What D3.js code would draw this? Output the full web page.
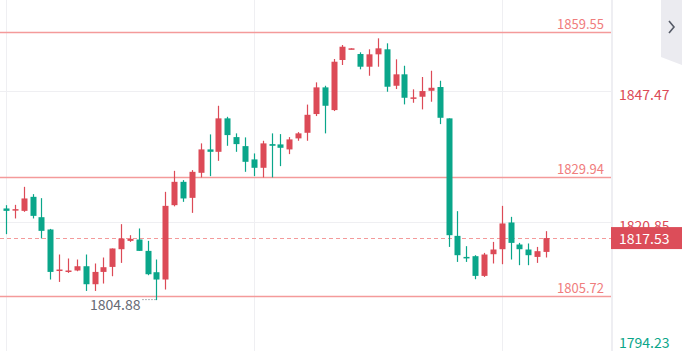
<!DOCTYPE html>
<html>
<head>
<meta charset="utf-8">
<script src="https://cdn.jsdelivr.net/npm/d3@7"></script>
<style>
  html, body { margin: 0; padding: 0; background: #fff; }
  svg { display: block; }
  text { font-family: "Noto Sans CJK SC", "Noto Sans", sans-serif; }
</style>
</head>
<body>
<div id="chart"></div>
<script>
// candle values (red = up, green = down)
const opens = [1823.57,1823.16,1823.08,1825.94,1821.79,1819.28,1810.84,1810.63,1810.92,1811.79,1808.12,1810.63,1811.65,1815.26,1816.96,1817.24,1814.92,1810.57,1809.08,1824.24,1829.0,1825.73,1830.84,1835.61,1835.12,1841.94,1838.12,1836.28,1833.57,1831.86,1836.69,1836.63,1835.61,1837.86,1839.0,1842.82,1848.26,1843.63,1853.84,1856.02,1855.06,1852.47,1855.0,1856.02,1848.59,1850.92,1846.02,1846.35,1847.57,1848.33,1841.94,1817.98,1813.69,1813.84,1809.82,1814.24,1815.26,1820.71,1816.22,1815.2,1813.69,1814.71];
const highs = [1824.24,1824.31,1827.98,1826.49,1825.67,1819.4,1814.18,1813.37,1813.16,1814.18,1812.35,1813.57,1815.41,1820.37,1818.12,1819.49,1816.96,1813.16,1826.96,1831.24,1829.35,1831.39,1836.84,1838.67,1844.51,1842.26,1838.88,1838.06,1834.79,1837.37,1838.88,1838.73,1838.12,1839.14,1844.75,1849.28,1848.59,1854.04,1856.9,1856.22,1855.41,1856.02,1858.26,1857.24,1853.98,1852.67,1847.86,1850.37,1851.65,1849.61,1841.94,1823.02,1815.88,1814.04,1814.51,1816.75,1824.1,1821.86,1816.55,1816.43,1815.73,1818.94];
const lows = [1818.33,1821.53,1822.88,1821.53,1817.45,1809.08,1808.59,1810.43,1810.77,1806.75,1806.75,1808.26,1809.75,1812.47,1816.75,1814.92,1809.96,1804.88,1807.04,1824.0,1824.92,1822.67,1829.9,1830.16,1833.28,1836.35,1835.12,1831.04,1830.16,1829.9,1829.9,1832.2,1834.65,1837.37,1837.37,1842.41,1838.88,1843.43,1852.82,1856.02,1851.94,1850.63,1852.47,1847.37,1847.92,1844.79,1845.12,1843.77,1845.33,1840.77,1815.73,1812.67,1812.67,1809.14,1809.61,1812.35,1812.2,1813.16,1812.0,1812.0,1812.47,1813.57];
const closes = [1823.08,1823.43,1825.61,1822.06,1819.0,1810.63,1811.12,1810.92,1811.79,1808.12,1810.63,1811.59,1815.41,1817.45,1817.37,1814.92,1810.16,1809.08,1824.1,1829.0,1825.61,1831.04,1835.61,1835.12,1841.94,1838.53,1836.69,1833.08,1831.86,1836.84,1836.35,1835.94,1837.65,1838.88,1842.67,1848.26,1844.51,1853.49,1856.55,1856.22,1852.47,1855.0,1856.22,1848.39,1850.92,1846.14,1846.22,1847.51,1848.18,1842.06,1818.12,1814.04,1813.49,1809.82,1814.18,1815.2,1820.51,1816.55,1815.26,1814.04,1814.86,1817.53];

const axisTicks = [1794.23, 1820.85, 1847.47];
const levelLines = [1859.55, 1829.94, 1805.72];
const lastPrice = 1817.53;
const lowMark = 1804.88;
const gridEvery = 28; // vertical grid every 28 candles

(function () {
    const W = 682, H = 351;
    const plotRight = 611;
    const red = "#dc4a57", green = "#0aa68a";
    const levelColor = "#f49a9a", levelText = "#f07d7d";

    const svg = d3.select("#chart").append("svg")
        .attr("width", W)
        .attr("height", H);

    const idx = d3.range(opens.length);
    const x = d3.scalePoint().domain(idx).range([6, 546]);
    const y = d3.scaleLinear().domain([1805.72, 1859.55]).range([296, 32]);

    // grid
    svg.selectAll(".hgrid")
        .data(axisTicks)
        .enter()
        .append("line")
        .attr("x1", 0).attr("x2", plotRight)
        .attr("y1", d => Math.round(y(d)) + 0.5)
        .attr("y2", d => Math.round(y(d)) + 0.5)
        .attr("stroke", "#efeff2");

    svg.selectAll(".vgrid")
        .data(idx.filter(i => i % gridEvery === 0))
        .enter()
        .append("line")
        .attr("x1", d => Math.round(x(d)) + 0.5)
        .attr("x2", d => Math.round(x(d)) + 0.5)
        .attr("y1", 0).attr("y2", H)
        .attr("stroke", "#efeff2");

    // level lines
    svg.selectAll(".level")
        .data(levelLines)
        .enter()
        .append("line")
        .attr("x1", 0).attr("x2", plotRight)
        .attr("y1", d => Math.round(y(d)) + 0.5)
        .attr("y2", d => Math.round(y(d)) + 0.5)
        .attr("stroke", levelColor)
        .attr("stroke-width", 1.3);

    svg.selectAll(".levelText")
        .data(levelLines)
        .enter()
        .append("text")
        .text(d => d.toFixed(2))
        .attr("x", 604)
        .attr("y", d => y(d) - 3.5)
        .attr("text-anchor", "end")
        .attr("font-size", "13px")
        .attr("fill", levelText);

    // current price dashed line
    svg.append("line")
        .attr("x1", 0).attr("x2", plotRight)
        .attr("y1", Math.round(y(lastPrice)) + 0.5)
        .attr("y2", Math.round(y(lastPrice)) + 0.5)
        .attr("stroke", levelColor)
        .attr("stroke-dasharray", "4,3");

    // candles
    const candles = svg.selectAll(".candle")
        .data(idx)
        .enter()
        .append("g");

    const col = i => closes[i] >= opens[i] ? red : green;

    candles.append("line")
        .attr("x1", i => Math.round(x(i)) + 0.5)
        .attr("x2", i => Math.round(x(i)) + 0.5)
        .attr("y1", i => y(highs[i]))
        .attr("y2", i => y(lows[i]))
        .attr("stroke", col)
        .attr("stroke-width", 1.2);

    candles.append("rect")
        .attr("x", i => Math.round(x(i)) - 2.5)
        .attr("width", 6)
        .attr("y", i => y(Math.max(opens[i], closes[i])))
        .attr("height", i => Math.max(1.5, Math.abs(y(opens[i]) - y(closes[i]))))
        .attr("fill", col);

    // low marker
    const lowIdx = lows.indexOf(d3.min(lows));
    svg.append("line")
        .attr("x1", x(lowIdx) - 14).attr("x2", x(lowIdx) - 1)
        .attr("y1", y(lowMark) - 0.5).attr("y2", y(lowMark) - 0.5)
        .attr("stroke", "#666a75")
        .attr("stroke-dasharray", "1,2");
    svg.append("text")
        .text(lowMark.toFixed(2))
        .attr("x", x(lowIdx) - 16)
        .attr("y", y(lowMark) + 10)
        .attr("text-anchor", "end")
        .attr("font-size", "14px")
        .attr("fill", "#666a75");

    // right axis panel
    svg.append("rect")
        .attr("x", plotRight).attr("y", 0)
        .attr("width", W - plotRight).attr("height", H)
        .attr("fill", "#fff");
    svg.append("line")
        .attr("x1", plotRight + 1).attr("x2", plotRight + 1)
        .attr("y1", 0).attr("y2", H)
        .attr("stroke", "#eeeef2")
        .attr("stroke-width", 2);

    svg.selectAll(".tick")
        .data(axisTicks)
        .enter()
        .append("text")
        .text(d => d.toFixed(2))
        .attr("x", 619)
        .attr("y", d => Math.min(y(d) + 9, H - 3))
        .attr("font-size", "14px")
        .attr("fill", d => d < y.invert(H - 20) ? green : red);

    // current price tag
    svg.append("rect")
        .attr("x", plotRight).attr("y", y(lastPrice) - 11)
        .attr("width", W - plotRight).attr("height", 22)
        .attr("fill", "#dc4d59");
    svg.append("text")
        .text(lastPrice.toFixed(2))
        .attr("x", 619)
        .attr("y", y(lastPrice) + 5.5)
        .attr("font-size", "14px")
        .attr("fill", "#fff");

    // collapse tab
    svg.append("path")
        .attr("d", "M661,0 H682 V65 L661,57 Z")
        .attr("fill", "#ebebf0");
    svg.append("path")
        .attr("d", "M669,21 L674,27 L669,33")
        .attr("fill", "none")
        .attr("stroke", "#555a66")
        .attr("stroke-width", 1.6);
})();
</script>
</body>
</html>
